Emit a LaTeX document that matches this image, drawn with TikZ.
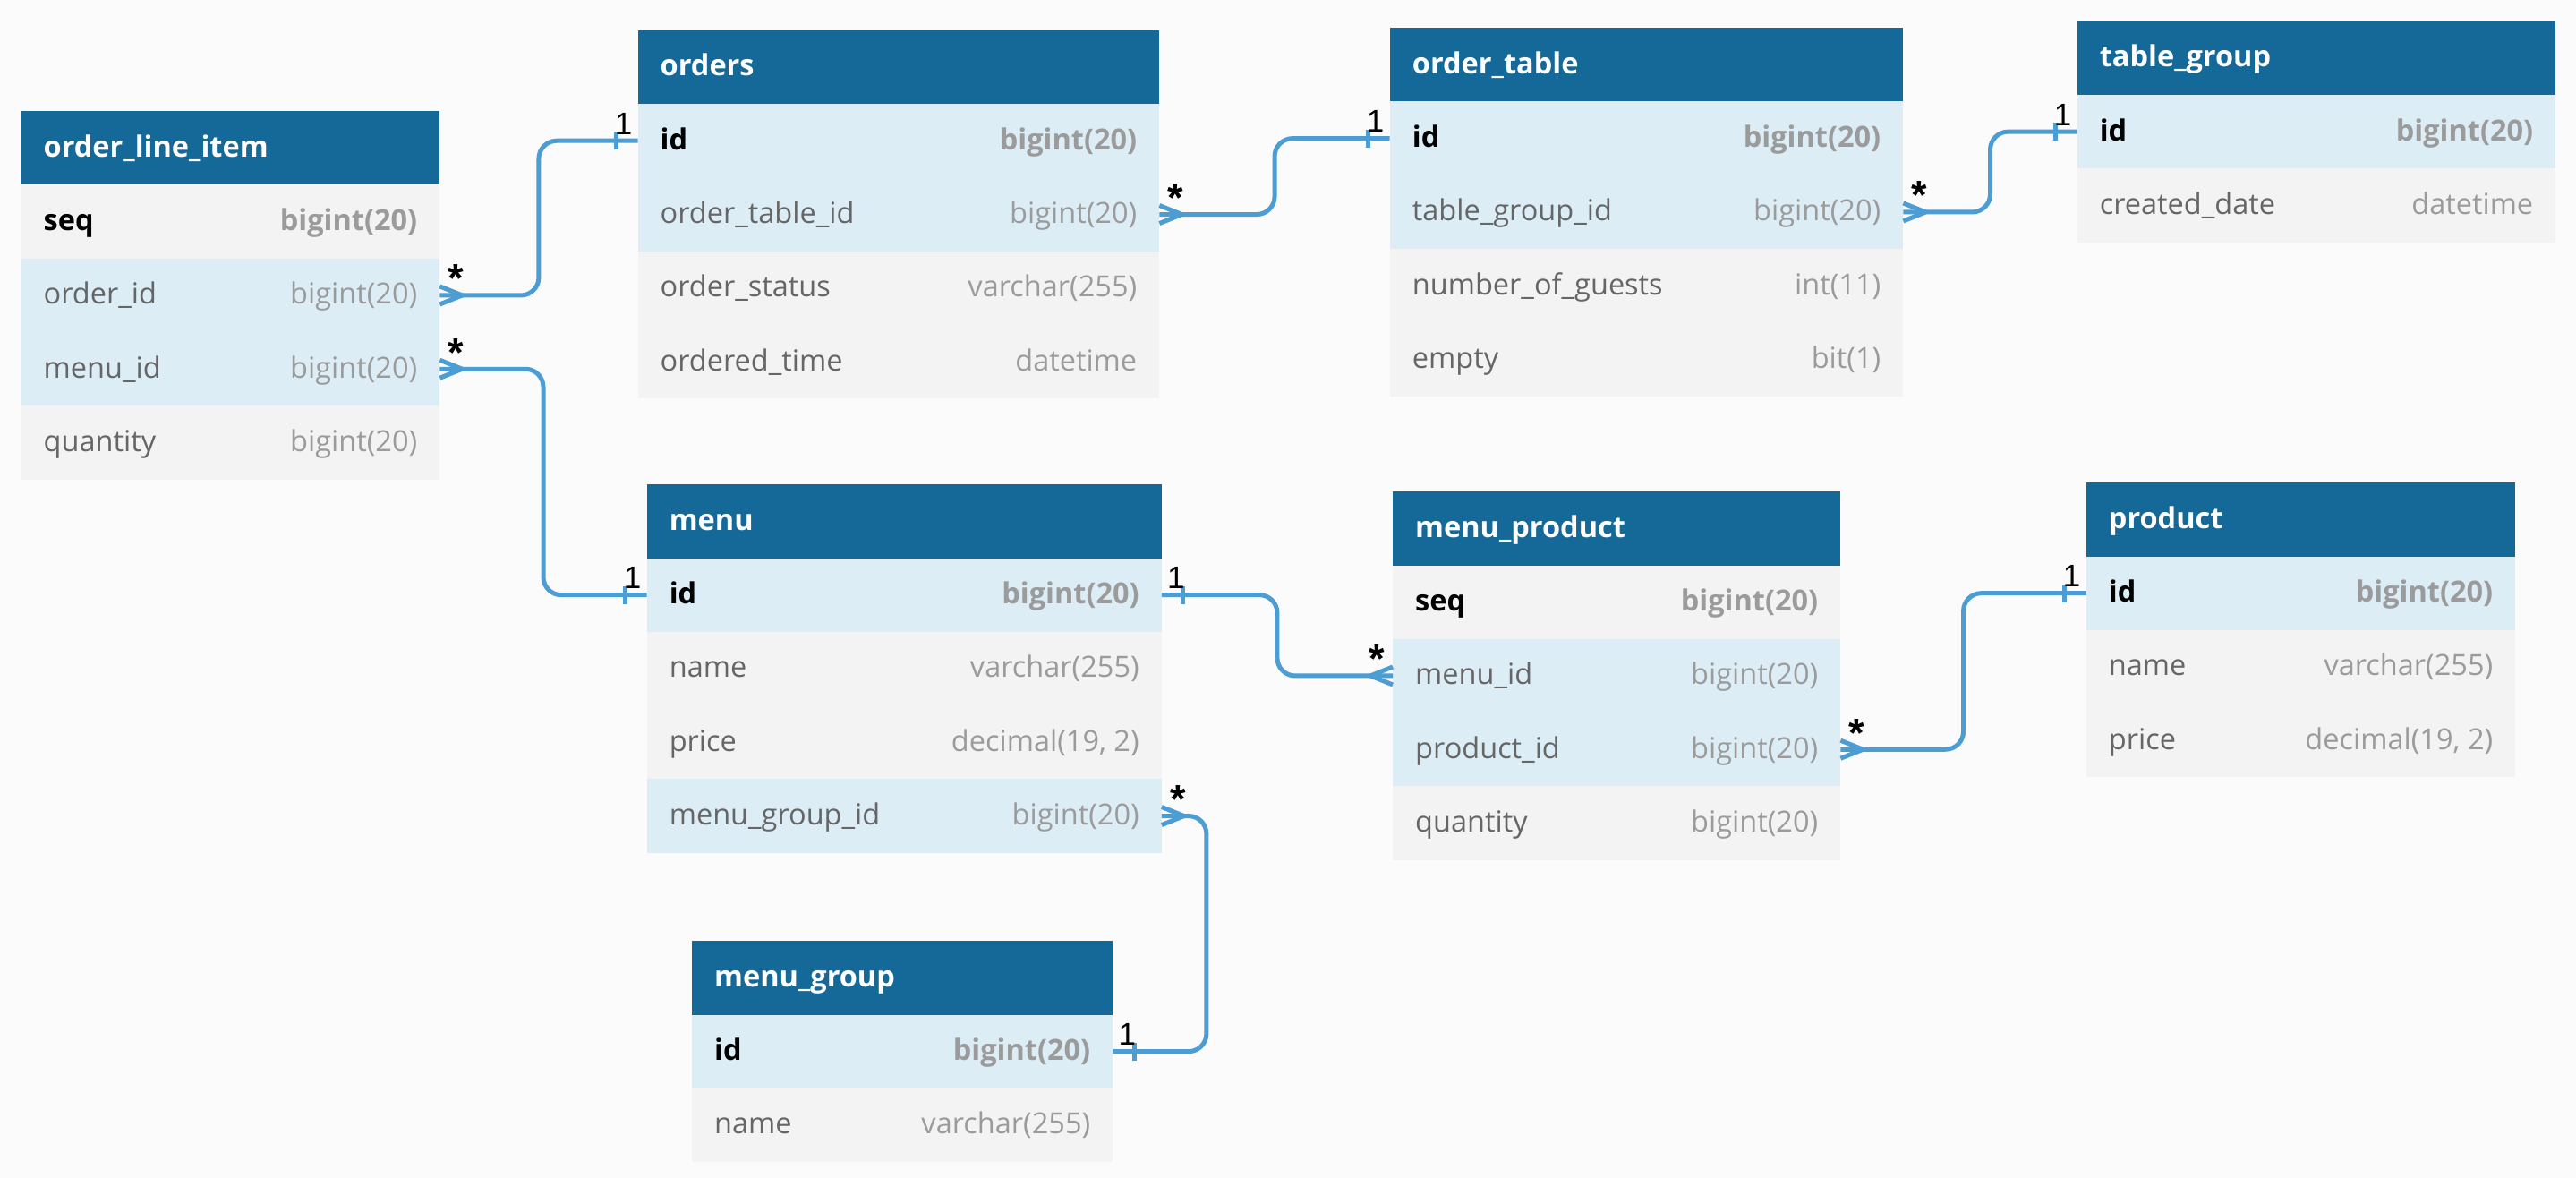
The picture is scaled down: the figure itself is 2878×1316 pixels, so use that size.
\documentclass[tikz,border=0pt]{standalone}
\usepackage{fontspec}
\setmainfont{Open Sans}
\newfontfamily\multfont{Liberation Sans}
\usetikzlibrary{calc}
\definecolor{bgc}{HTML}{FBFBFB}
\definecolor{headblue}{HTML}{146998}
\definecolor{rowblue}{HTML}{DCEDF6}
\definecolor{rowgrey}{HTML}{F3F3F3}
\definecolor{typegrey}{HTML}{9B9B9B}
\definecolor{namegrey}{HTML}{666666}
\definecolor{linkblue}{HTML}{4B9DD4}
\tikzset{
  cell/.style={rectangle, draw=none, inner xsep=25pt, inner ysep=0pt,
    minimum height=82.3pt, text height=20pt, text depth=0pt, anchor=north west,
    font=\fontsize{32.5}{39}\selectfont},
  hdrcell/.style={cell, fill=headblue, text=white, font=\fontsize{32.5}{39}\selectfont\bfseries},
  bluecell/.style={cell, fill=rowblue},
  greycell/.style={cell, fill=rowgrey},
  conn/.style={draw=linkblue, line width=5pt, line join=round},
  link/.style={conn, rounded corners=20pt},
  mult/.style={font=\multfont\fontsize{35}{40}\selectfont, inner sep=0pt, anchor=base},
  multstar/.style={font=\multfont\bfseries\fontsize{45}{50}\selectfont, inner sep=0pt, anchor=base},
}
\newcommand\hdr[5]{\node[hdrcell, minimum width=#4pt] (#1) at (#2,#3) {\hbox to \dimexpr#4pt-50pt\relax{#5\hfill}};}
\newcommand\pkrow[7]{\node[#5, minimum width=#4pt] (#1) at (#2,#3) {\hbox to \dimexpr#4pt-50pt\relax{\textbf{#6}\hfill{\bfseries\color{typegrey}#7}}};}
\newcommand\plrow[7]{\node[#5, minimum width=#4pt] (#1) at (#2,#3) {\hbox to \dimexpr#4pt-50pt\relax{{\color{namegrey}#6}\hfill{\color{typegrey}#7}}};}
\begin{document}
\begin{tikzpicture}[x=1pt,y=-1pt]
\fill[bgc] (0,0) rectangle (2878,1316);
\useasboundingbox (0,0) rectangle (2878,1316);
% order_line_item
\hdr{oli}{23.5}{124}{467.5}{order\_line\_item}
\pkrow{oli-seq}{23.5}{206.3}{467.5}{greycell}{seq}{bigint(20)}
\plrow{oli-order}{23.5}{288.6}{467.5}{bluecell}{order\_id}{bigint(20)}
\plrow{oli-menu}{23.5}{370.9}{467.5}{bluecell}{menu\_id}{bigint(20)}
\plrow{oli-qty}{23.5}{453.2}{467.5}{greycell}{quantity}{bigint(20)}
% orders
\hdr{ord}{712.5}{33.6}{582.5}{orders}
\pkrow{ord-id}{712.5}{115.9}{582.5}{bluecell}{id}{bigint(20)}
\plrow{ord-ot}{712.5}{198.2}{582.5}{bluecell}{order\_table\_id}{bigint(20)}
\plrow{ord-st}{712.5}{280.5}{582.5}{greycell}{order\_status}{varchar(255)}
\plrow{ord-tm}{712.5}{362.8}{582.5}{greycell}{ordered\_time}{datetime}
% order_table
\hdr{ot}{1552.7}{31}{573.3}{order\_table}
\pkrow{ot-id}{1552.7}{113.3}{573.3}{bluecell}{id}{bigint(20)}
\plrow{ot-tg}{1552.7}{195.6}{573.3}{bluecell}{table\_group\_id}{bigint(20)}
\plrow{ot-ng}{1552.7}{277.9}{573.3}{greycell}{number\_of\_guests}{int(11)}
\plrow{ot-em}{1552.7}{360.2}{573.3}{greycell}{empty}{bit(1)}
% table_group
\hdr{tg}{2320.6}{23.5}{534.4}{table\_group}
\pkrow{tg-id}{2320.6}{105.8}{534.4}{bluecell}{id}{bigint(20)}
\plrow{tg-cd}{2320.6}{188.1}{534.4}{greycell}{created\_date}{datetime}
% menu
\hdr{mn}{722.6}{541}{574.9}{menu}
\pkrow{mn-id}{722.6}{623.3}{574.9}{bluecell}{id}{bigint(20)}
\plrow{mn-nm}{722.6}{705.6}{574.9}{greycell}{name}{varchar(255)}
\plrow{mn-pr}{722.6}{787.9}{574.9}{greycell}{price}{decimal(19, 2)}
\plrow{mn-mg}{722.6}{870.2}{574.9}{bluecell}{menu\_group\_id}{bigint(20)}
% menu_product
\hdr{mp}{1556}{549}{500}{menu\_product}
\pkrow{mp-seq}{1556}{631.3}{500}{greycell}{seq}{bigint(20)}
\plrow{mp-mn}{1556}{713.6}{500}{bluecell}{menu\_id}{bigint(20)}
\plrow{mp-pd}{1556}{795.9}{500}{bluecell}{product\_id}{bigint(20)}
\plrow{mp-qt}{1556}{878.2}{500}{greycell}{quantity}{bigint(20)}
% product
\hdr{pd}{2330.7}{539}{479.3}{product}
\pkrow{pd-id}{2330.7}{621.3}{479.3}{bluecell}{id}{bigint(20)}
\plrow{pd-nm}{2330.7}{703.6}{479.3}{greycell}{name}{varchar(255)}
\plrow{pd-pr}{2330.7}{785.9}{479.3}{greycell}{price}{decimal(19, 2)}
% menu_group
\hdr{mg}{773}{1051}{470}{menu\_group}
\pkrow{mg-id}{773}{1133.3}{470}{bluecell}{id}{bigint(20)}
\plrow{mg-nm}{773}{1215.6}{470}{greycell}{name}{varchar(255)}
% ---------- connectors ----------
\draw[link] (oli-order.east) -| ($(oli-order.east)!0.5!(ord-id.west)$) |- (ord-id.west);
\draw[link] (oli-menu.east) -| ($(oli-menu.east)!0.5!(mn-id.west)$) |- (mn-id.west);
\draw[link] (ord-ot.east) -| ($(ord-ot.east)!0.5!(ot-id.west)$) |- (ot-id.west);
\draw[link] (ot-tg.east) -| ($(ot-tg.east)!0.5!(tg-id.west)$) |- (tg-id.west);
\draw[link] (mn-id.east) -| ($(mn-id.east)!0.5!(mp-mn.west)$) |- (mp-mn.west);
\draw[link] (mp-pd.east) -| ($(mp-pd.east)!0.5!(pd-id.west)$) |- (pd-id.west);
\draw[link] (mn-mg.east) -- ++(50,0) |- (mg-id.east);
% many markers (east side)
\foreach \n in {oli-order, oli-menu, ord-ot, ot-tg, mp-pd, mn-mg}{
  \draw[conn] ([yshift=10pt]\n.east) -- ([xshift=25pt]\n.east) -- ([yshift=-10pt]\n.east);
}
% many marker (west side)
\draw[conn] ([yshift=10pt]mp-mn.west) -- ([xshift=-25pt]mp-mn.west) -- ([yshift=-10pt]mp-mn.west);
% one ticks (west side)
\foreach \n in {ord-id, mn-id, ot-id, tg-id, pd-id}{
  \draw[conn] ([xshift=-24pt,yshift=10pt]\n.west) -- ([xshift=-24pt,yshift=-10pt]\n.west);
}
% one ticks (east side)
\draw[conn] ([xshift=24pt,yshift=10pt]mn-id.east) -- ([xshift=24pt,yshift=-10pt]mn-id.east);
\draw[conn] ([xshift=24pt,yshift=10pt]mg-id.east) -- ([xshift=24pt,yshift=-10pt]mg-id.east);
% labels
\node[multstar] (la1) at ([xshift=18pt,yshift=3pt]oli-order.east) {*};
\node[mult] (la2) at ([xshift=-16pt,yshift=7pt]ord-id.west) {1};
\node[multstar] (lb1) at ([xshift=18pt,yshift=3pt]oli-menu.east) {*};
\node[mult] (lb2) at ([xshift=-16pt,yshift=7pt]mn-id.west) {1};
\node[multstar] (lc1) at ([xshift=18pt,yshift=3pt]ord-ot.east) {*};
\node[mult] (lc2) at ([xshift=-16pt,yshift=7pt]ot-id.west) {1};
\node[multstar] (ld1) at ([xshift=18pt,yshift=3pt]ot-tg.east) {*};
\node[mult] (ld2) at ([xshift=-16pt,yshift=7pt]tg-id.west) {1};
\node[mult] (le1) at ([xshift=16pt,yshift=7pt]mn-id.east) {1};
\node[multstar] (le2) at ([xshift=-18pt,yshift=3pt]mp-mn.west) {*};
\node[multstar] (lf1) at ([xshift=18pt,yshift=3pt]mp-pd.east) {*};
\node[mult] (lf2) at ([xshift=-16pt,yshift=7pt]pd-id.west) {1};
\node[multstar] (lg1) at ([xshift=18pt,yshift=3pt]mn-mg.east) {*};
\node[mult] (lg2) at ([xshift=16pt,yshift=7pt]mg-id.east) {1};
\end{tikzpicture}
\end{document}
